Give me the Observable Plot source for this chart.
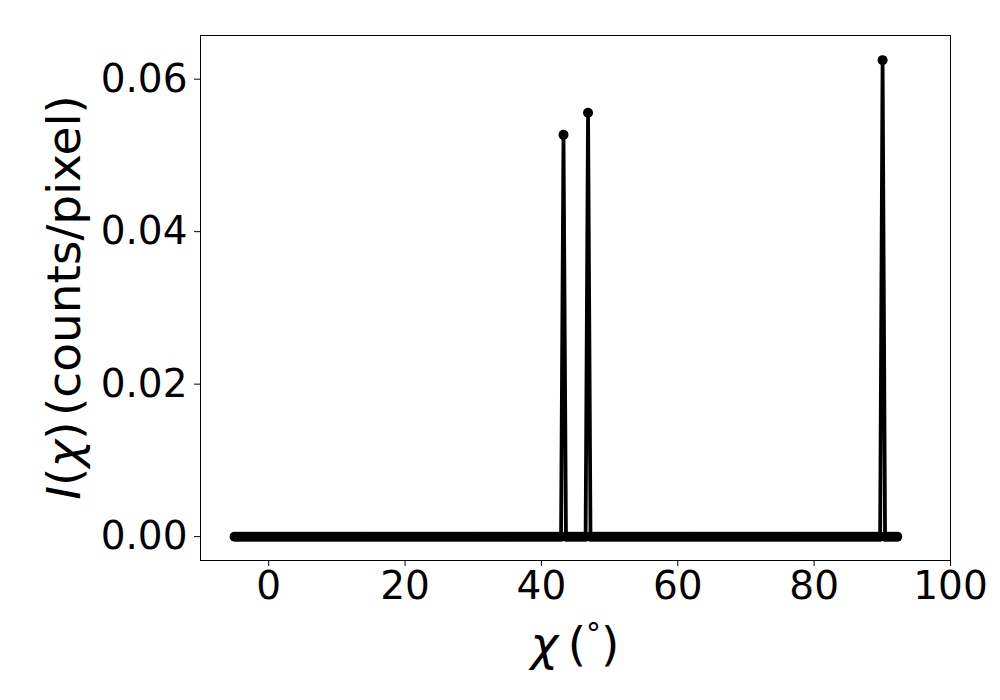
<!DOCTYPE html>
<html>
<head>
<meta charset="utf-8">
<script src="https://cdn.jsdelivr.net/npm/d3@7"></script>
<script src="https://cdn.jsdelivr.net/npm/@observablehq/plot@0.6"></script>
<style>
  html, body { margin: 0; padding: 0; background: #fff; }
  #chart svg { font-family: "DejaVu Sans", sans-serif; display: block; }
</style>
</head>
<body>
<div id="chart"></div>
<script>
// Binned chi grid (degrees): start, bin width, number of bins
const chiStart = -5;
const chiStep = 0.36;
const chiCount = 271;

// Peaks (chi in degrees, intensity in counts/pixel)
const peakChi = [43.38, 46.70, 89.88];
const peakIntensity = [0.0527, 0.0556, 0.0625];

// Axis ticks
const xTicks = [0, 20, 40, 60, 80, 100];
const yTicks = [0.00, 0.02, 0.04, 0.06];

const chi = d3.range(chiCount).map(i => +(chiStart + i * chiStep).toFixed(3));
const data = chi.map(c => {
  const k = peakChi.findIndex(p => Math.abs(p - c) < chiStep / 2);
  return {chi: c, I: k >= 0 ? peakIntensity[k] : 0};
});

const W = 1000, H = 700;
const mL = 200, mR = 50, mT = 35, mB = 140;

const plot = Plot.plot({
  width: W,
  height: H,
  marginLeft: mL,
  marginRight: mR,
  marginTop: mT,
  marginBottom: mB,
  style: {fontFamily: "DejaVu Sans, sans-serif", fontSize: "39px", background: "#fff", color: "#000"},
  x: {domain: [-10, 100]},
  y: {domain: [-0.00313, 0.06573]},
  marks: [
    Plot.frame({stroke: "#000", strokeWidth: 1}),
    Plot.axisX({ticks: xTicks, tickSize: 6, tickPadding: 5, tickFormat: d3.format("d"), label: null, fontSize: 39}),
    Plot.axisY({ticks: yTicks, tickSize: 6, tickPadding: 7, tickFormat: d3.format(".2f"), label: null, fontSize: 39}),
    Plot.line(data, {x: "chi", y: "I", stroke: "#000", strokeWidth: 3.8, strokeLinejoin: "round"}),
    Plot.dot(data, {x: "chi", y: "I", r: 5, fill: "#000", stroke: "none"})
  ]
});
document.getElementById("chart").appendChild(plot);

// Axis labels with italic math symbols
const svg = d3.select(plot);
const ylab = svg.append("text")
  .attr("transform", `translate(63,${(mT + H - mB) / 2}) rotate(-90)`)
  .attr("text-anchor", "middle")
  .attr("dominant-baseline", "central")
  .attr("font-size", 47)
  .attr("fill", "#000");
ylab.append("tspan").attr("font-style", "italic").text("I");
ylab.append("tspan").text("(");
ylab.append("tspan").attr("font-style", "italic").text("χ");
ylab.append("tspan").text(")");
ylab.append("tspan").attr("dx", -4).text("\u2009(counts/pixel)");

const xlab = svg.append("text")
  .attr("x", (mL + W - mR) / 2)
  .attr("y", 660)
  .attr("text-anchor", "middle")
  .attr("font-size", 47)
  .attr("fill", "#000");
xlab.append("tspan").attr("font-style", "italic").text("χ");
xlab.append("tspan").text("\u2009(");
xlab.append("tspan").attr("font-size", 30).attr("dy", -16).text("°");
xlab.append("tspan").attr("dy", 16).text(")");
</script>
</body>
</html>
